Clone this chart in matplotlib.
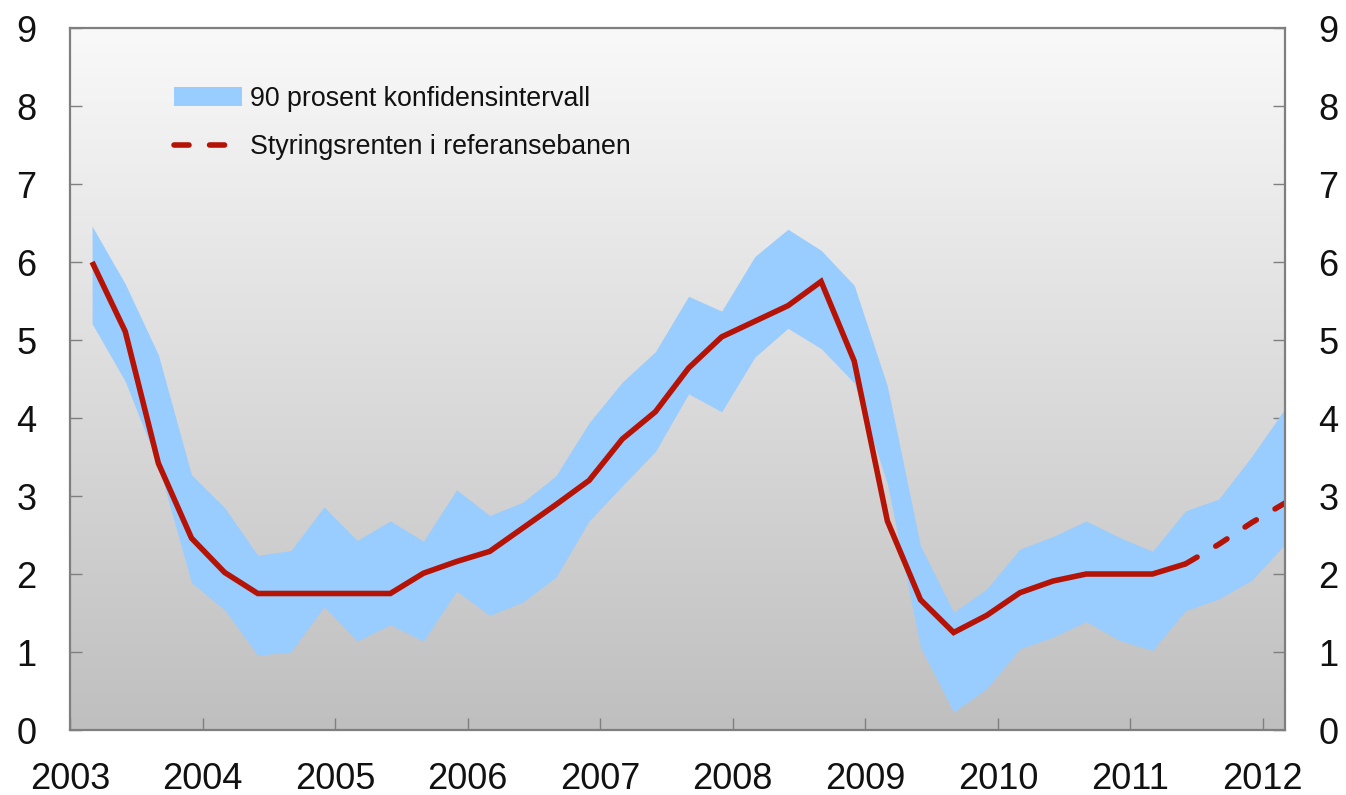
import numpy as np
import pandas as pd
import matplotlib
matplotlib.use("Agg")
import matplotlib.pyplot as plt
from matplotlib.patches import Patch
from matplotlib.lines import Line2D
from matplotlib.colors import LinearSegmentedColormap

plt.rcParams['font.family'] = ['Liberation Sans', 'DejaVu Sans']

# Quarterly observations 2003Q1 - 2012Q1
quarters = [str(p) for p in pd.period_range('2003Q1', '2012Q1', freq='Q')]

policy_rate = [6.00, 5.11, 3.42, 2.46, 2.02, 1.75, 1.75, 1.75, 1.75, 1.75,
               2.01, 2.16, 2.29, 2.59, 2.89, 3.20, 3.73, 4.08, 4.64, 5.04,
               5.24, 5.44, 5.75, 4.73, 2.68, 1.67, 1.25, 1.47, 1.76, 1.91,
               2.00, 2.00, 2.00, 2.13, 2.38, 2.66, 2.91]

ci_upper = [6.46, 5.72, 4.81, 3.27, 2.85, 2.24, 2.30, 2.86, 2.43, 2.68,
            2.42, 3.08, 2.75, 2.92, 3.26, 3.94, 4.46, 4.85, 5.56, 5.37,
            6.07, 6.42, 6.15, 5.70, 4.41, 2.36, 1.51, 1.81, 2.32, 2.48,
            2.68, 2.47, 2.29, 2.81, 2.96, 3.51, 4.12]

ci_lower = [5.21, 4.47, 3.40, 1.89, 1.54, 0.96, 1.00, 1.58, 1.14, 1.35,
            1.14, 1.78, 1.47, 1.64, 1.96, 2.68, 3.13, 3.57, 4.31, 4.08,
            4.78, 5.15, 4.89, 4.45, 3.16, 1.06, 0.23, 0.53, 1.04, 1.19,
            1.39, 1.15, 1.02, 1.53, 1.68, 1.92, 2.38]

forecast_start = '2011Q2'

year_ticks = list(range(2003, 2013))
y_ticks = list(range(0, 10))

legend_labels = ['90 prosent konfidensintervall', 'Styringsrenten i referansebanen']

# ---- positions ----
per = pd.PeriodIndex(quarters, freq='Q')
x = np.array([p.year + (p.quarter - 1) / 4 + 1 / 6 for p in per])
k = quarters.index(forecast_start)

blue = '#99ccff'
red = '#b51305'
spine_col = '#7f7f7f'
LW = 4.0

fig = plt.figure(figsize=(13.46, 7.95), dpi=100)
ax = fig.add_axes([70 / 1346, 1 - 730 / 795, (1285 - 70) / 1346, (730 - 28) / 795])

# gradient background (light at top, darker grey at bottom)
grad = np.linspace(0, 1, 256).reshape(-1, 1)
cmap = LinearSegmentedColormap.from_list('bg', ['#bfbfbf', '#f9f9f9'])
ax.imshow(grad, extent=[0, 1, 0, 1], origin='lower', transform=ax.transAxes,
          cmap=cmap, aspect='auto', zorder=0)

ax.fill_between(x, ci_lower, ci_upper, color=blue, linewidth=0, zorder=2)
ax.plot(x[:k + 1], policy_rate[:k + 1], color=red, lw=LW,
        solid_joinstyle='miter', solid_capstyle='butt', zorder=3)
ax.plot(x[k:], policy_rate[k:], color=red, lw=LW, dashes=(2.4, 3.9),
        dash_capstyle='round', zorder=3)

ax.set_xlim(2003, x[-1])
ax.set_ylim(0, 9)
ax.set_xticks(year_ticks)
ax.set_xticklabels([str(y) for y in year_ticks])
ax.set_yticks(y_ticks)

for s in ax.spines.values():
    s.set_color(spine_col)
    s.set_linewidth(1.6)
    s.set_zorder(5)

ax.tick_params(axis='both', direction='in', length=8.5, width=1.0,
               color=spine_col, labelsize=26, labelcolor='#111111')
ax.tick_params(axis='y', left=True, right=True, labelleft=True,
               labelright=True, pad=24)
ax.tick_params(axis='x', top=False, pad=23)

handles = [Patch(facecolor=blue, edgecolor='none'),
           Line2D([0], [0], color=red, lw=LW, dashes=(2.7, 3.7),
                  dash_capstyle='round')]
leg = ax.legend(handles, legend_labels, loc='upper left',
                bbox_to_anchor=((174 - 70) / 1215, 1 - (86 - 28) / 702),
                frameon=False, fontsize=19.3, handlelength=2.55,
                handleheight=0.7, handletextpad=0.28, labelspacing=0.82,
                borderpad=0, borderaxespad=0)
for t in leg.get_texts():
    t.set_color('#111111')

fig.savefig('out.png', dpi=100)
